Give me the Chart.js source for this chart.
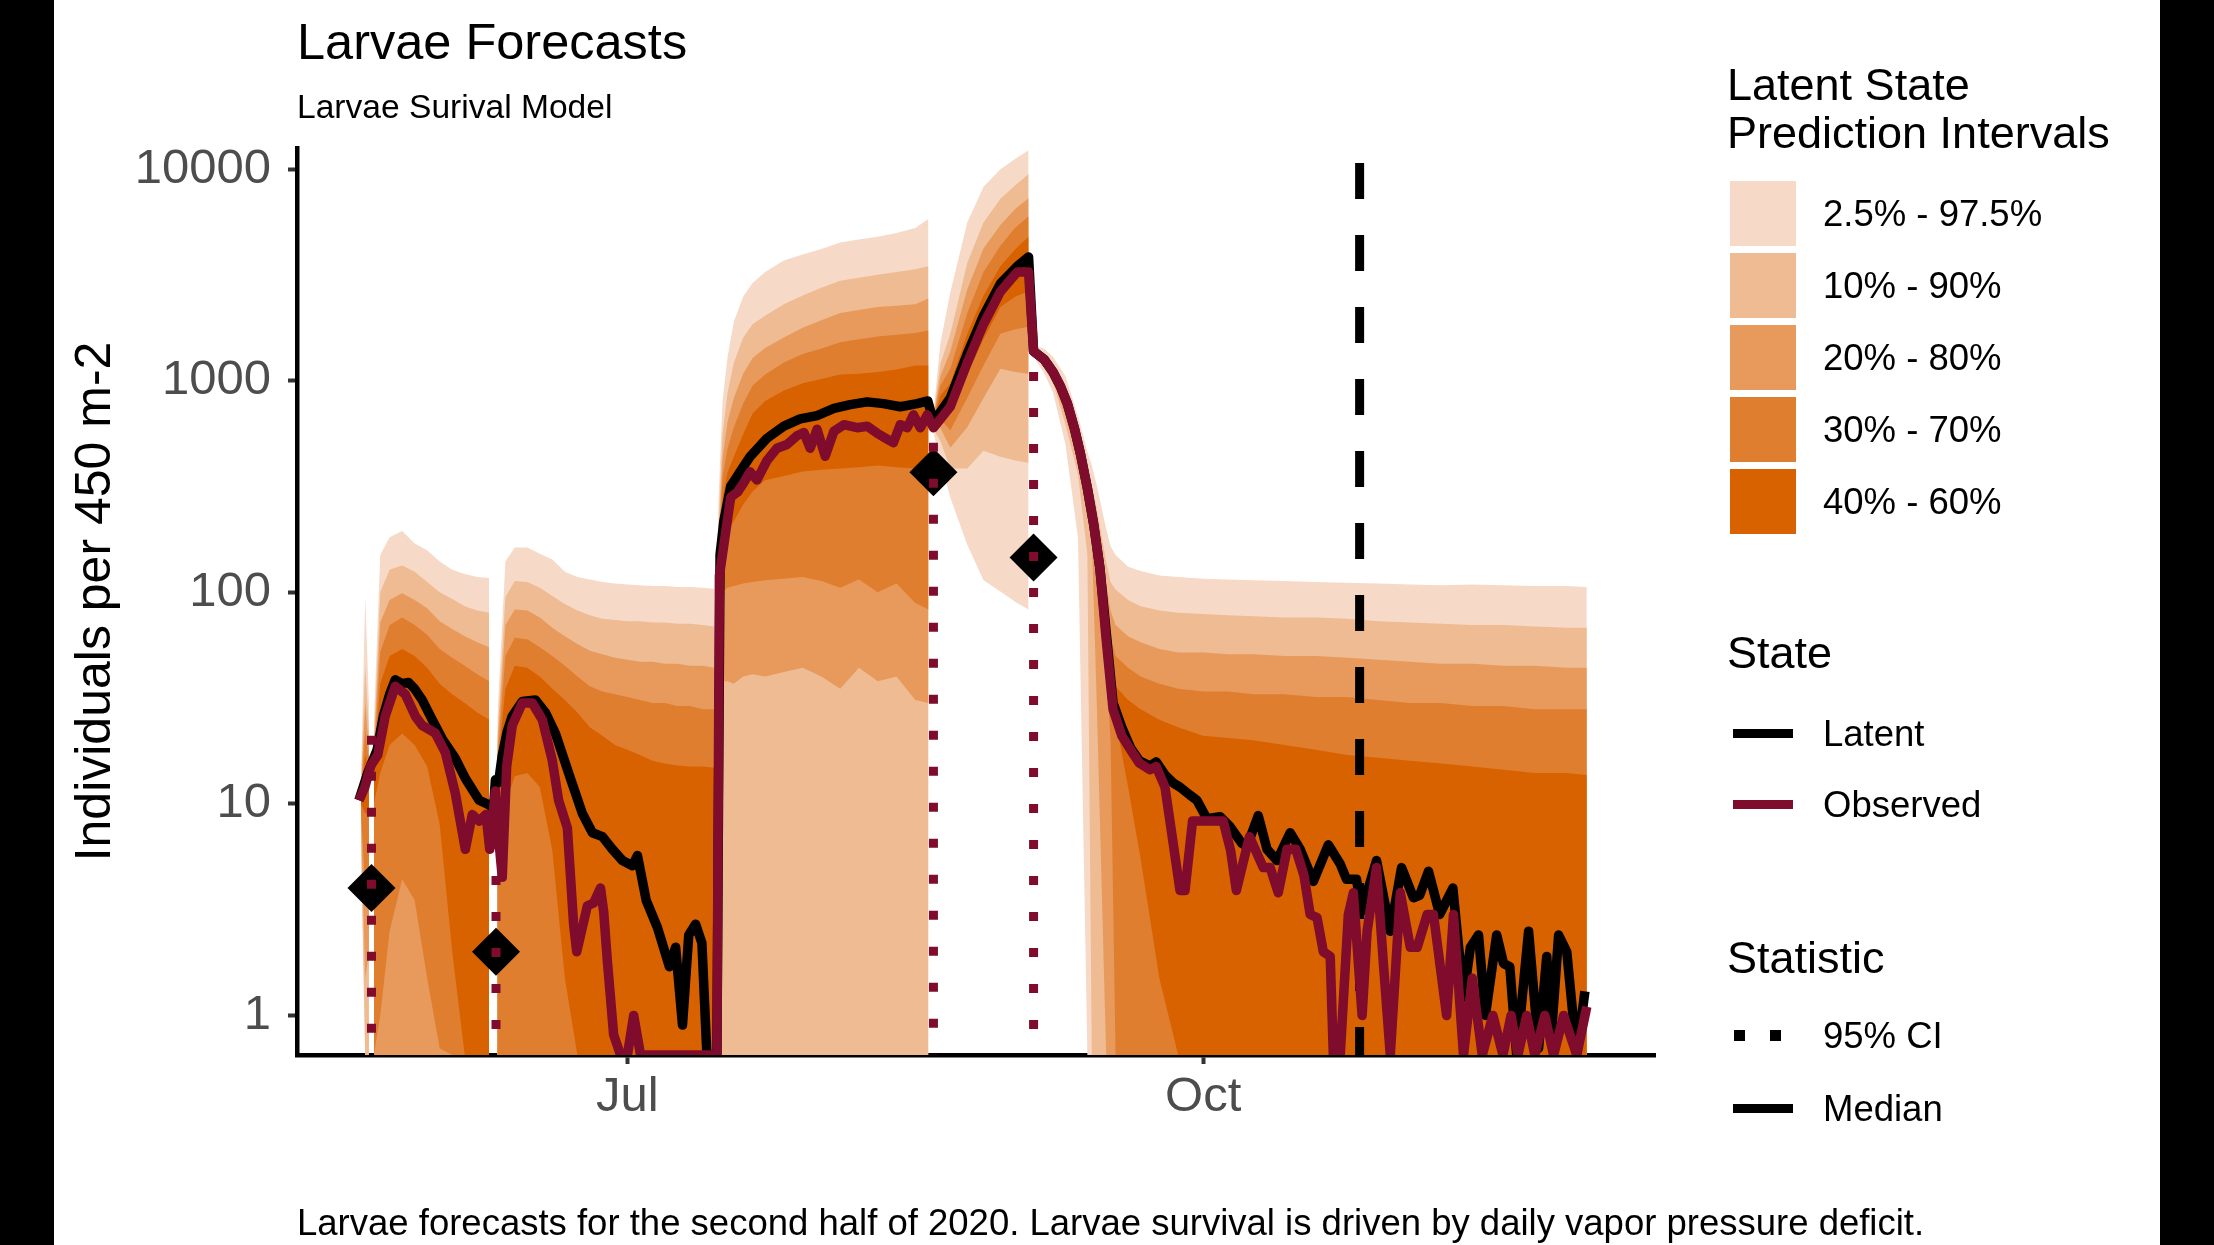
<!DOCTYPE html>
<html lang="en">
<head>
<meta charset="utf-8">
<title>Larvae Forecasts</title>
<script src="https://cdn.jsdelivr.net/npm/chart.js@4.4.1/dist/chart.umd.min.js"></script>
<style>
  html, body { margin: 0; padding: 0; background: #000; }
  body { position: relative; width: 2214px; height: 1245px; overflow: hidden;
         font-family: "Liberation Sans", Arial, Helvetica, sans-serif; }
  #sheet { position: absolute; left: 54px; top: 0; width: 2106px; height: 1245px; background: #fff; }
  #chart { position: absolute; left: 0; top: 0; }
  .txt { position: absolute; white-space: nowrap; line-height: 1; color: #000; }
  .key { position: absolute; }
</style>
</head>
<body>
<div id="sheet"></div>
<canvas id="chart" width="2214" height="1245"></canvas>
<div class="txt" style="left:297px;top:17px;font-size:50.5px">Larvae Forecasts</div>
<div class="txt" style="left:297px;top:90px;font-size:33.6px">Larvae Surival Model</div>
<div class="txt" style="left:297px;top:1205px;font-size:36.5px">Larvae forecasts for the second half of 2020. Larvae survival is driven by daily vapor pressure deficit.</div>
<div id="legend"></div>
<script>
// x values are days relative to 1 July 2020
const DAY_TICKS = [0, 92];
const DAY_TICK_LABELS = ['Jul', 'Oct'];
const Y_TICKS = [1, 10, 100, 1000, 10000];

// latent state prediction interval bounds (null = break between forecast runs)
const BAND_DAYS = [
  -42.6, -41.9, -41.3, -41.0,
  -40.5, -39.5, -38, -36, -34, -32, -30, -28, -26, -24, -22.1, -21.5,
  -20.8, -19.5, -18, -16, -14, -12, -10, -8, -6, -4, -2, 0, 2, 4, 6, 8, 10, 12, 13.9, 14.2,
  14.5, 15.2, 16, 17, 18.5, 20, 22, 25, 28, 31, 34, 37, 40, 43, 46, 48.1, 48.5,
  48.9, 50, 51.6, 54.3, 56.9, 59.6, 62, 64.1, 64.6,
  65.3, 66.5, 68, 70, 72, 73.5, 74.2, 75, 76.5, 77.2, 78, 80, 82, 85, 88,
  92, 96, 100, 105, 110, 115, 120, 125, 130, 135, 140, 145, 150, 153.3
];
const Q975 = [
  12, 95, 30, null,
  25, 150, 182, 195, 170, 158, 140, 128, 122, 118, 117, null,
  25, 140, 163, 163, 152, 143, 125, 118, 115, 112, 110, 109, 108, 107, 107, 106, 106, 105, 104, null,
  250, 800, 1300, 1900, 2500, 2900, 3270, 3700, 3950, 4200, 4500, 4650, 4800, 5000, 5280, 5820, null,
  700, 1500, 2620, 5600, 8260, 10000, 11200, 12300, null,
  1450, 1420, 1300, 1050, 680, 460, 400, 320, 200, 165, 150, 132, 126, 120, 118,
  116, 115, 114, 113, 112, 111, 110, 109, 108, 109, 108, 107, 107, 106
];
const Q90 = [
  11.5, 45, 22, null,
  20, 100, 128, 134, 125, 112, 100, 93, 86, 82, 80, null,
  20, 95, 113, 112, 105, 96, 88, 82, 78, 75, 74, 73, 73, 72, 72, 71, 71, 70, 69, null,
  190, 560, 880, 1215, 1600, 1850, 2030, 2300, 2530, 2750, 2970, 3070, 3170, 3270, 3370, 3480, null,
  680, 1200, 1670, 3600, 5600, 7260, 8400, 9500, null,
  1400, 1350, 1220, 920, 600, 390, 320, 250, 140, 112, 103, 92, 86, 82, 80,
  79, 78, 77, 76, 76, 75, 73, 72, 71, 70, 70, 69, 68, 68
];
const Q80 = [
  11, 30, 18, null,
  18, 72, 92, 99, 92, 84, 73, 67, 62, 58, 55, null,
  18, 70, 83, 82, 76, 68, 62, 57, 53, 51, 49, 48, 47, 47, 46, 46, 45, 45, 44, null,
  160, 430, 640, 830, 1080, 1280, 1430, 1600, 1780, 1930, 2090, 2160, 2230, 2260, 2300, 2450, null,
  665, 1050, 1380, 2700, 4220, 5450, 6500, 7300, null,
  1390, 1320, 1180, 870, 560, 360, 290, 220, 110, 82, 70, 62, 58, 54, 52,
  52, 51, 51, 50, 50, 49, 48, 47, 46, 46, 45, 45, 44, 44
];
const Q70 = [
  10.8, 22, 16, null,
  16, 52, 70, 76, 70, 63, 54, 49, 45, 41, 38, null,
  16, 50, 61, 60, 55, 50, 45, 40, 36, 34, 33, 32, 31, 30, 30, 29, 29, 28, 28, null,
  140, 350, 480, 603, 780, 950, 1070, 1220, 1340, 1420, 1520, 1570, 1620, 1650, 1680, 1730, null,
  655, 950, 1140, 2090, 3270, 4350, 5300, 6000, null,
  1380, 1300, 1150, 840, 540, 340, 270, 205, 90, 62, 50, 44, 40, 37, 35,
  34, 34, 33, 33, 32, 32, 31, 30, 30, 29, 29, 28, 28, 28
];
const Q60 = [
  10.6, 17, 14.5, null,
  14.5, 37, 50, 54, 50, 44, 37, 33, 30, 27, 25, null,
  14.5, 35, 45, 44, 40, 35, 31, 27, 23, 21, 19, 18, 17, 16, 15.5, 15.2, 15, 15, 14.8, null,
  125, 280, 370, 438, 560, 700, 803, 900, 973, 1020, 1070, 1080, 1100, 1130, 1180, 1180, null,
  645, 850, 973, 1670, 2530, 3480, 4200, 4800, null,
  1370, 1280, 1120, 810, 520, 325, 260, 190, 78, 48, 36, 31, 28, 25, 23,
  21, 20.5, 20, 19, 18, 17, 16.5, 16, 15.5, 15, 14.5, 14, 14, 13.7
];
const Q40 = [
  10, 9, 9, null,
  10, 14, 19, 21.5, 19, 15, 8, 2, 0, 0, 0, null,
  5, 10, 13.5, 14, 12, 6, 1.5, 0, 0, 0, 0, 0, 0, 0, 0, 0, 0, 0, 0, null,
  100, 160, 195, 217, 260, 300, 339, 355, 373, 380, 385, 390, 398, 390, 385, 361, null,
  620, 720, 707, 1070, 1570, 2230, 2500, 2650, null,
  1330, 1240, 1080, 750, 480, 295, 230, 165, 60, 35, 25, 12, 5.5, 1.5, 0,
  0, 0, 0, 0, 0, 0, 0, 0, 0, 0, 0, 0, 0, 0
];
const Q30 = [
  9.5, 4, 5, null,
  0, 1, 2.5, 4.4, 3.5, 1.5, 0.7, 0, 0, 0, 0, null,
  0, 0, 0, 0, 0, 0, 0, 0, 0, 0, 0, 0, 0, 0, 0, 0, 0, 0, 0, null,
  80, 100, 105, 107, 110, 112, 114, 116, 118, 113, 105, 115, 100, 110, 89, 83, null,
  610, 660, 583, 830, 1180, 1670, 1750, 1800, null,
  1320, 1220, 1050, 720, 455, 275, 215, 140, 45, 20, 0, 0, 0, 0, 0,
  0, 0, 0, 0, 0, 0, 0, 0, 0, 0, 0, 0, 0, 0
];
const Q20 = [
  9, 1.5, 2, null,
  0, 0, 0, 0, 0, 0, 0, 0, 0, 0, 0, null,
  0, 0, 0, 0, 0, 0, 0, 0, 0, 0, 0, 0, 0, 0, 0, 0, 0, 0, 0, null,
  35, 38, 38, 37, 40, 41, 40, 42, 44, 40, 35, 44, 38, 40, 31, 30, null,
  600, 600, 482, 603, 830, 1140, 1100, 1080, null,
  1300, 1200, 1020, 680, 420, 240, 180, 30, 0, 0, 0, 0, 0, 0, 0,
  0, 0, 0, 0, 0, 0, 0, 0, 0, 0, 0, 0, 0, 0
];
const Q10 = [
  8, 0, 0, null,
  0, 0, 0, 0, 0, 0, 0, 0, 0, 0, 0, null,
  0, 0, 0, 0, 0, 0, 0, 0, 0, 0, 0, 0, 0, 0, 0, 0, 0, 0, 0, null,
  0, 0, 0, 0, 0, 0, 0, 0, 0, 0, 0, 0, 0, 0, 0, 0, null,
  590, 520, 385, 385, 467, 438, 420, 410, null,
  1280, 1170, 980, 620, 360, 150, 0, 0, 0, 0, 0, 0, 0, 0, 0,
  0, 0, 0, 0, 0, 0, 0, 0, 0, 0, 0, 0, 0, 0
];
const Q025 = [
  6, 0, 0, null,
  0, 0, 0, 0, 0, 0, 0, 0, 0, 0, 0, null,
  0, 0, 0, 0, 0, 0, 0, 0, 0, 0, 0, 0, 0, 0, 0, 0, 0, 0, 0, null,
  0, 0, 0, 0, 0, 0, 0, 0, 0, 0, 0, 0, 0, 0, 0, 0, null,
  570, 420, 280, 168, 114, 101, 90, 83, null,
  1240, 1100, 880, 500, 180, 0, 0, 0, 0, 0, 0, 0, 0, 0, 0,
  0, 0, 0, 0, 0, 0, 0, 0, 0, 0, 0, 0, 0, 0
];

// latent state median
const LATENT_DAYS = [
  -42.9, -41.5, -40, -39, -38, -37.1, -36, -35, -34, -32.8, -31.2, -29.6, -27.5, -25.9, -23.7, -22.1, -21.4,
  -21.1, -20.6, -20, -19.2, -18.4, -16.8, -14.7, -13.1, -11.5, -9.4, -7.2, -5.6, -4, -2.4, -0.8, 0.8, 1.6,
  3, 4.8, 6.7, 7.7, 8.8, 9.8, 10.9, 11.9, 12.7, 14.3, 14.8, 15.4, 16.5, 18.1, 19.6, 22.3, 25, 27.6, 30.3,
  33, 35.6, 38.3, 40.9, 43.6, 46.3, 48, 48.9, 51.6, 54.3, 56.9, 59.6, 62.3, 64.1, 64.9, 66.6, 68, 69.2,
  70.3, 71.4, 72.4, 73.5, 74.5, 75.5, 76.5, 77.6, 79, 80.4, 81.8, 83.5, 84.5, 85.9, 87.3, 88.3, 89.9,
  91, 92.6, 94.7, 96.3, 98.2, 99, 100.8, 102.2, 103.8, 105.9, 107.5, 109.6, 112, 113.9, 114.9, 116.5,
  117.3, 119.7, 121.9, 123.7, 125.6, 126.6, 128, 129.8, 131.9, 133.6, 134.7, 136, 137.1, 138.9, 140,
  141, 142.1, 144, 145.6, 146.9, 147.7, 148.8, 150.1, 151.7, 153
];
const LATENT = [
  10.4, 14, 18, 26, 33, 38.6, 37, 37.5, 35, 31, 25, 20.3, 16.4, 13.2, 10.4, 9.9, 9.5,
  13, 12.6, 17, 22, 26, 30.5, 31, 27, 21.5, 14, 9, 7.3, 7, 6.1, 5.4, 5.1, 5.7,
  3.5, 2.6, 1.7, 2.1, 0.9, 2.4, 2.7, 2.2, 0, 0, 150, 217, 317, 375, 438, 535, 610, 660, 685,
  740, 771, 795, 780, 754, 780, 803, 640, 830, 1340, 2030, 2880, 3480, 3850, 1380, 1260, 1100, 940,
  780, 600, 450, 310, 210, 130, 65, 30, 23, 18.4, 16, 15.1, 15.8, 13.7, 12.5, 12, 11,
  10.4, 8.5, 8.7, 7.8, 6.5, 6.3, 8.8, 6.1, 5.4, 7.3, 6.1, 4.3, 6.4, 5.2, 4.4, 4.4,
  3.1, 5.4, 2.5, 5, 3.6, 3.7, 4.8, 3, 4, 1.22, 2.1, 2.4, 1, 2.4, 1.76,
  1.7, 0, 2.5, 0.7, 1.9, 0.85, 2.4, 2, 0, 1.3
];

// observed state median
const OBSERVED_DAYS = [
  -42.9, -42, -41, -39.9, -38.7, -37.1, -35.5, -33.9, -32.8, -30.7, -29.1, -27.5, -25.9, -24.8, -23.7, -22.6, -22,
  -21.1, -20.6, -20, -19.3, -18.4, -16.8, -15.2, -13.6, -12, -11, -9.6, -8.6, -8.1, -6.4, -5.4, -4.3, -3.8,
  -3.2, -2.2, -1.1, 0, 1, 2.1, 14.3, 14.7, 16.5, 17.6, 18.6, 19.6, 20.7, 22.3, 23.9, 25.5, 27.1, 28.2,
  29.2, 30.3, 31.6, 33, 34.6, 36.7, 38.3, 39.9, 41.5, 42.5, 43.6, 44.7, 45.7, 46.8, 47.9, 48.9, 51.6,
  54.3, 56.9, 59.6, 61.2, 62.3, 64.1, 64.9, 66.6, 68, 69.2, 70.3, 71.4, 72.4, 73.5, 74.5, 75.5, 76.5,
  77.6, 79, 80.4, 81.8, 83.5, 84.5, 85.9, 88.3, 89.1, 90.3, 90.9, 95.2, 96.4, 97.3, 99.4, 101.6, 102.7,
  104, 105.4, 106.8, 108.1, 109.1, 110.2, 111.2, 112.3, 112.8, 113.9, 115.2, 116, 117.4, 118.2, 119.7,
  120.8, 121.9, 123.5, 125.1, 126.2, 127.8, 128.8, 130.9, 132, 133.6, 135, 136.6, 138.3, 139.9, 141.2,
  142.3, 143.7, 145, 146.6, 148, 149.6, 151.7, 153.3
];
const OBSERVED = [
  10.4, 11.9, 15.2, 17, 26, 36, 33, 26, 23.5, 21.6, 17.5, 11.2, 6.1, 8.9, 8.3, 8.9, 6.1,
  11.5, 7, 4.5, 15, 23.5, 30, 30, 25, 16, 10.4, 7.7, 2.7, 2, 3.3, 3.4, 4, 3.1,
  1.8, 0.81, 0, 0, 1, 0, 0, 120, 282, 298, 330, 371, 340, 420, 480, 500, 550, 570,
  480, 590, 440, 578, 620, 600, 610, 565, 530, 510, 620, 600, 690, 600, 690, 600, 755,
  1215, 1850, 2640, 3000, 3270, 3270, 1380, 1260, 1100, 940, 780, 600, 450, 310, 210, 130, 60,
  28, 21, 18, 15.6, 14.5, 15, 12, 3.9, 3.9, 8.3, 8.3, 8.3, 6, 3.9, 7, 5, 5,
  3.8, 6.1, 6.1, 4.6, 3, 2.9, 2, 1.9, 0, 0, 3, 3.8, 1, 2.5, 5,
  1.76, 0, 3.8, 2.1, 2.1, 3, 3, 1, 3, 0, 1.5, 0, 1, 0, 1,
  0, 1, 0, 1, 0, 1, 0, 1.1
];

// field observations and their 95% CI
const OBS_DAYS = [-40.9, -21.0, 48.9, 64.9];
const OBS_VALUES = [4.0, 2.0, 370, 146];
const CI_UPPER = [21, 10, 510, 1100];
const CI_LOWER = [0, 0, 0, 0];

const FORECAST_START_DAY = 117;

const Y_MIN = 0.65, Y_MAX = 12600;
const X_MIN = -52.8, X_MAX = 164.2;
const OBSERVED_COLOR = '#7F0B2D';
const FONT = '"Liberation Sans", Arial, Helvetica, sans-serif';

const BANDS = [
  { label: '40% - 60%', lo: Q40, hi: Q60, color: '#D96200' },
  { label: '30% - 70%', lo: Q30, hi: Q70, color: '#E07E30' },
  { label: '20% - 80%', lo: Q20, hi: Q80, color: '#E79A5C' },
  { label: '10% - 90%', lo: Q10, hi: Q90, color: '#EEBB92' },
  { label: '2.5% - 97.5%', lo: Q025, hi: Q975, color: '#F7D9C7' }
];

// zeros sit below a log axis, so they are pressed onto its lower edge
const squish = v => (v === null ? null : Math.max(v, Y_MIN));
const toPoints = (days, vals) => days.map((d, i) => ({ x: d, y: squish(vals[i]) }));

const ciPoints = [];
OBS_DAYS.forEach((d, i) => {
  ciPoints.push({ x: d, y: squish(CI_UPPER[i]) }, { x: d, y: squish(CI_LOWER[i]) }, { x: d, y: null });
});

const datasets = [
  { label: '95% CI', data: ciPoints, borderColor: OBSERVED_COLOR, borderWidth: 9,
    borderDash: [9, 27], borderCapStyle: 'butt', pointRadius: 0, spanGaps: false, fill: false },
  { label: 'Observations', data: toPoints(OBS_DAYS, OBS_VALUES), showLine: false,
    pointStyle: 'rectRot', pointRadius: 24, pointBackgroundColor: '#000', pointBorderWidth: 0 },
  { label: 'Observed', data: toPoints(OBSERVED_DAYS, OBSERVED), borderColor: OBSERVED_COLOR,
    borderWidth: 9.5, borderJoinStyle: 'round', pointRadius: 0, fill: false },
  { label: 'Latent', data: toPoints(LATENT_DAYS, LATENT), borderColor: '#000',
    borderWidth: 9.5, borderJoinStyle: 'round', pointRadius: 0, fill: false },
  { label: 'Forecast start', data: [{ x: FORECAST_START_DAY, y: Y_MIN }, { x: FORECAST_START_DAY, y: Y_MAX }],
    borderColor: '#000', borderWidth: 9, borderDash: [36, 36], borderDashOffset: 8, pointRadius: 0, fill: false }
];
BANDS.forEach(b => {
  datasets.push({ label: b.label, data: toPoints(BAND_DAYS, b.hi), backgroundColor: b.color,
    borderWidth: 0, pointRadius: 0, fill: '+1', spanGaps: false });
  datasets.push({ label: b.label + ' lower', data: toPoints(BAND_DAYS, b.lo),
    borderWidth: 0, pointRadius: 0, fill: false, spanGaps: false });
});

const axisGrid = { display: true, drawOnChartArea: false, drawTicks: true, tickLength: 9, tickWidth: 4, tickColor: '#333333' };
const axisBorder = { display: true, color: '#000', width: 4.5 };

Chart.defaults.font.family = FONT;

new Chart(document.getElementById('chart'), {
  type: 'line',
  data: { datasets },
  options: {
    responsive: false,
    animation: false,
    events: [],
    layout: { padding: { left: 54, right: 559, top: 148, bottom: 0 } },
    plugins: { legend: { display: false }, tooltip: { enabled: false }, title: { display: false } },
    elements: { line: { tension: 0 }, point: { hoverRadius: 0 } },
    scales: {
      x: {
        type: 'linear', min: X_MIN, max: X_MAX,
        afterBuildTicks: s => { s.ticks = DAY_TICKS.map(v => ({ value: v })); },
        afterFit: s => { s.height = 190; },
        ticks: { callback: v => DAY_TICK_LABELS[DAY_TICKS.indexOf(v)], font: { size: 49 },
                 color: '#4D4D4D', padding: 4, maxRotation: 0, autoSkip: false },
        grid: axisGrid,
        border: axisBorder
      },
      y: {
        type: 'logarithmic', min: Y_MIN, max: Y_MAX,
        afterBuildTicks: s => { s.ticks = Y_TICKS.map(v => ({ value: v })); },
        afterFit: s => { s.width = 243; },
        ticks: { callback: v => String(v), font: { size: 49 }, color: '#4D4D4D', padding: 17, autoSkip: false },
        grid: axisGrid,
        border: axisBorder,
        title: { display: true, text: 'Individuals per 450 m-2', font: { size: 50 }, color: '#000',
                 padding: { top: 12, bottom: 0 } }
      }
    }
  }
});

// legend, laid out like the ggplot guide
const legend = document.getElementById('legend');
function addText(html, left, top, size, lineHeight) {
  const el = document.createElement('div');
  el.className = 'txt';
  el.innerHTML = html;
  el.style.left = left + 'px';
  el.style.top = top + 'px';
  el.style.fontSize = size + 'px';
  if (lineHeight) el.style.lineHeight = lineHeight + 'px';
  legend.appendChild(el);
}
function addKey(left, top, w, h, color) {
  const el = document.createElement('div');
  el.className = 'key';
  el.style.cssText = `left:${left}px;top:${top}px;width:${w}px;height:${h}px;background:${color}`;
  legend.appendChild(el);
}

addText('Latent State<br>Prediction Intervals', 1727, 61, 45, 48);
BANDS.slice().reverse().forEach((b, i) => {
  addKey(1730, 181 + i * 72, 66, 65, b.color);
  addText(b.label, 1823, 196 + i * 72, 36.5);
});
addText('State', 1727, 630, 45);
addKey(1733, 729, 60, 9, '#000');
addText('Latent', 1823, 716, 36.5);
addKey(1733, 800, 60, 9, OBSERVED_COLOR);
addText('Observed', 1823, 787, 36.5);
addText('Statistic', 1727, 935, 45);
addKey(1734, 1030, 11, 11, '#000');
addKey(1770, 1030, 11, 11, '#000');
addText('95% CI', 1823, 1018, 36.5);
addKey(1733, 1104, 60, 9, '#000');
addText('Median', 1823, 1091, 36.5);
</script>
</body>
</html>
